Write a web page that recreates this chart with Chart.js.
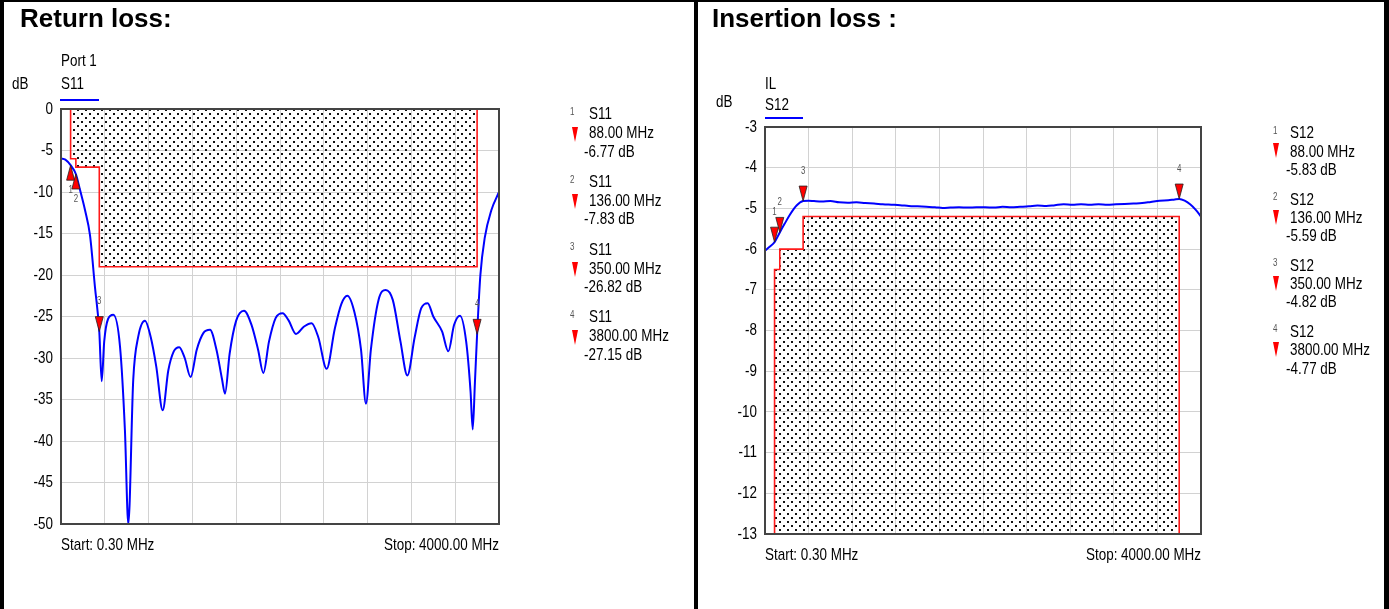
<!DOCTYPE html>
<html>
<head>
<meta charset="utf-8">
<title>Return loss / Insertion loss</title>
<script src="https://cdn.jsdelivr.net/npm/chart.js@4.4.1/dist/chart.umd.min.js"></script>
<style>
  body { margin: 0; background: #fff; }
  #page { position: relative; width: 1389px; height: 609px; overflow: hidden; background: #fff;
          font-family: 'Liberation Sans', Arial, sans-serif; }
  canvas { position: absolute; top: 0; }
  .bar { position: absolute; background: #000; z-index: 5; }
  .title { position: absolute; font: bold 26px 'Liberation Sans', Arial, sans-serif; line-height: 30px; white-space: nowrap; }
  .lbl { position: absolute; font-size: 17px; line-height: 20px; white-space: nowrap;
         transform: scaleX(0.79); transform-origin: left top; }
  .num { position: absolute; font-size: 10px; line-height: 12px; color: #555;
         transform: scaleX(0.8); transform-origin: left top; }
  .tri { position: absolute; width: 0; height: 0; border-left: 3.5px solid transparent;
         border-right: 3.5px solid transparent; border-top: 15px solid #f00; }
  .uline { position: absolute; height: 2px; background: #00f; }
</style>
</head>
<body>
<div id="page">
  <canvas id="rl" width="694" height="609" style="left:0"></canvas>
  <canvas id="il" width="691" height="609" style="left:698px"></canvas>

  <div class="bar" style="left:0;top:0;width:1389px;height:2px"></div>
  <div class="bar" style="left:0;top:0;width:4px;height:609px"></div>
  <div class="bar" style="left:694px;top:0;width:4px;height:609px"></div>
  <div class="bar" style="left:1384px;top:0;width:5px;height:609px"></div>

  <div class="title" style="left:20px;top:3px">Return loss:</div>
  <div class="title" style="left:712px;top:3px">Insertion loss :</div>

  <div class="lbl" style="left:61px;top:51px">Port 1</div>
  <div class="lbl" style="left:12px;top:74px">dB</div>
  <div class="lbl" style="left:61px;top:74px">S11</div>
  <div class="uline" style="left:60px;top:99px;width:39px"></div>

  <div class="lbl" style="left:765px;top:74px">IL</div>
  <div class="lbl" style="left:716px;top:92px">dB</div>
  <div class="lbl" style="left:765px;top:95px">S12</div>
  <div class="uline" style="left:765px;top:117px;width:38px"></div>
</div>

<script>
// sweep
const startLabel = 'Start: 0.30 MHz';
const stopLabel = 'Stop: 4000.00 MHz';
const fStart = 0.3, fStop = 4000;

// S11 trace (MHz, dB)
const s11Freq = [0.3, 40, 88, 136, 175, 220, 265, 310, 350, 372, 395, 430, 478, 539, 584, 615, 660, 706,
  767, 820, 870, 929, 980, 1030, 1080, 1130, 1184, 1240, 1300, 1361, 1420, 1470, 1498, 1540, 1600,
  1671, 1740, 1800, 1848, 1900, 1960, 2024, 2080, 2146, 2220, 2289, 2350, 2426, 2500, 2560, 2615,
  2680, 2740, 2785, 2830, 2900, 2965, 3030, 3100, 3163, 3230, 3290, 3349, 3400, 3480, 3537, 3590,
  3644, 3700, 3740, 3760, 3780, 3800, 3830, 3870, 3930, 4000];
const s11Db = [-5.95, -6.1, -6.77, -7.83, -9.8, -12.2, -15.2, -21.4, -26.82, -32.8, -28, -25.3, -24.8, -28.6, -38.7, -50, -32.6, -27.4,
  -25.5, -27.5, -31, -36.3, -31.5, -29.2, -28.7, -30, -32.3, -29, -27, -26.6, -29, -32.5, -34.3, -29.5, -25.5,
  -24.3, -26, -29, -31.8, -28, -25.2, -24.6, -25.5, -27.1, -26.2, -25.8, -27.5, -31.3, -26.5, -23.5, -22.5,
  -24.5, -29, -35.5, -29, -23, -21.8, -23, -28, -32.1, -27.5, -24, -23.4, -25, -26.8, -29.2, -26,
  -24.9, -28, -34, -38.6, -33, -27.15, -20, -15.5, -12.2, -10];

// return loss mask
const rlLimitFreq = [88, 88, 136, 136, 350, 350, 3800, 3800];
const rlLimitDb = [0, -6, -6, -7, -7, -19, -19, 0];

// S12 trace (MHz, dB)
const s12Freq = [0.3, 40, 88, 136, 180, 230, 290, 350, 400, 450, 520, 600, 680, 760, 840, 920, 1000,
  1080, 1160, 1240, 1320, 1400, 1480, 1560, 1630, 1700, 1780, 1860, 1940, 2020, 2100, 2180, 2260,
  2340, 2420, 2500, 2580, 2660, 2740, 2820, 2900, 2980, 3060, 3140, 3220, 3300, 3380, 3460, 3540,
  3620, 3700, 3760, 3800, 3850, 3900, 3950, 4000];
const s12Db = [-6.04, -5.95, -5.83, -5.59, -5.38, -5.15, -4.93, -4.82, -4.81, -4.82, -4.83, -4.82, -4.85, -4.86, -4.85, -4.87, -4.88,
  -4.9, -4.91, -4.92, -4.94, -4.95, -4.96, -4.97, -4.99, -4.98, -4.97, -4.98, -4.97, -4.97, -4.98, -4.96, -4.97,
  -4.96, -4.95, -4.93, -4.94, -4.92, -4.9, -4.91, -4.9, -4.91, -4.9, -4.91, -4.9, -4.89, -4.88, -4.87, -4.84,
  -4.81, -4.8, -4.78, -4.77, -4.81, -4.9, -5.03, -5.2];

// insertion loss mask
const ilLimitFreq = [88, 88, 136, 136, 350, 350, 3800, 3800];
const ilLimitDb = [-13, -6.5, -6.5, -6, -6, -5.2, -5.2, -13];

// markers
const markerFreq = [88, 136, 350, 3800];
const s11MarkerDb = [-6.77, -7.83, -26.82, -27.15];
const s12MarkerDb = [-5.83, -5.59, -4.82, -4.77];

const sans = "'Liberation Sans', Arial, sans-serif";
const squeeze = 0.79;   // the analyzer font is a tall, narrow Arial

function pts(xs, ys) { return xs.map((x, i) => ({ x: x, y: ys[i] })); }

function dotPattern() {
  const c = document.createElement('canvas');
  c.width = 8; c.height = 8;
  const g = c.getContext('2d');
  g.fillStyle = '#111';
  g.fillRect(1, 1, 2, 2);
  g.fillRect(5, 5, 2, 2);
  return g.createPattern(c, 'repeat');
}

function squeezedText(ctx, text, x, y, align) {
  ctx.save();
  ctx.translate(x, y);
  ctx.scale(squeeze, 1);
  ctx.textAlign = align;
  ctx.fillText(text, 0, 0);
  ctx.restore();
}

const framePlugin = {
  id: 'frame',
  afterDatasetsDraw(chart) {
    const a = chart.chartArea, ctx = chart.ctx;
    ctx.save();
    ctx.strokeStyle = '#444';
    ctx.lineWidth = 2;
    ctx.strokeRect(a.left, a.top, a.right - a.left, a.bottom - a.top);
    ctx.restore();
  }
};

// tick labels drawn narrow, positions from the chart scales
const tickTextPlugin = {
  id: 'tickText',
  afterDraw(chart) {
    const ctx = chart.ctx, x = chart.scales.x, y = chart.scales.y;
    ctx.save();
    ctx.fillStyle = '#000';
    ctx.font = '17px ' + sans;
    ctx.textBaseline = 'middle';
    y.ticks.forEach(t => squeezedText(ctx, t.label, y.right - 8, y.getPixelForValue(t.value), 'right'));
    const first = x.ticks[0], last = x.ticks[x.ticks.length - 1];
    squeezedText(ctx, first.label, x.getPixelForValue(first.value), x.top + 21, 'left');
    squeezedText(ctx, last.label, x.getPixelForValue(last.value), x.top + 21, 'right');
    ctx.restore();
  }
};

const markerPlugin = {
  id: 'markers',
  afterDraw(chart, args, o) {
    const ctx = chart.ctx, x = chart.scales.x, y = chart.scales.y;
    markerFreq.forEach((f, i) => {
      const px = x.getPixelForValue(f), py = y.getPixelForValue(o.values[i]);
      const d = o.up[i] ? 1 : -1;
      ctx.save();
      ctx.beginPath();
      ctx.moveTo(px, py);
      ctx.lineTo(px - 4, py + d * 15);
      ctx.lineTo(px + 4, py + d * 15);
      ctx.closePath();
      ctx.fillStyle = '#ff0000';
      ctx.fill();
      ctx.strokeStyle = '#222';
      ctx.lineWidth = 0.8;
      ctx.stroke();
      ctx.fillStyle = '#555';
      ctx.font = '10px ' + sans;
      ctx.textBaseline = 'middle';
      squeezedText(ctx, String(i + 1), px, o.up[i] ? py + 25 : py - 30, 'center');
      ctx.restore();
    });
  }
};

function makeChart(id, cfg) {
  return new Chart(document.getElementById(id), {
    type: 'line',
    data: {
      datasets: [
        {
          data: pts(cfg.traceF, cfg.traceV),
          borderColor: '#0000ff', borderWidth: 2, pointRadius: 0,
          cubicInterpolationMode: 'monotone', fill: false
        },
        {
          data: pts(cfg.limF, cfg.limV),
          borderColor: '#ff1a1a', borderWidth: 1.6, pointRadius: 0, tension: 0,
          fill: cfg.fill, backgroundColor: dotPattern()
        }
      ]
    },
    options: {
      responsive: false,
      animation: false,
      events: [],
      layout: { padding: cfg.padding },
      plugins: {
        legend: { display: false },
        tooltip: { enabled: false },
        markers: { values: cfg.markers, up: cfg.up }
      },
      scales: {
        x: {
          type: 'linear', min: fStart, max: fStop,
          afterBuildTicks: (axis) => {
            axis.ticks = [];
            for (let i = 0; i <= 10; i++) axis.ticks.push({ value: fStart + i * (fStop - fStart) / 10 });
          },
          afterFit: (s) => { s.height = 40; },
          grid: { color: '#d2d2d2', lineWidth: 1, drawTicks: false },
          border: { display: false },
          ticks: {
            display: false, autoSkip: false,
            callback: (v, i, t) => i === 0 ? startLabel : (i === t.length - 1 ? stopLabel : '')
          }
        },
        y: {
          min: cfg.yMin, max: cfg.yMax,
          afterFit: (s) => { s.width = cfg.yWidth; },
          grid: { color: '#d2d2d2', lineWidth: 1, drawTicks: false },
          border: { display: false },
          ticks: { display: false, stepSize: cfg.step }
        }
      }
    },
    plugins: [framePlugin, tickTextPlugin, markerPlugin]
  });
}

makeChart('rl', {
  traceF: s11Freq, traceV: s11Db, limF: rlLimitFreq, limV: rlLimitDb, fill: 'end',
  yMin: -50, yMax: 0, step: 5, yWidth: 61,
  padding: { left: 0, top: 109, right: 195, bottom: 45 },
  markers: s11MarkerDb, up: [true, true, false, false]
});

makeChart('il', {
  traceF: s12Freq, traceV: s12Db, limF: ilLimitFreq, limV: ilLimitDb, fill: 'start',
  yMin: -13, yMax: -3, step: 1, yWidth: 67,
  padding: { left: 0, top: 127, right: 188, bottom: 35 },
  markers: s12MarkerDb, up: [false, false, false, false]
});

// marker readout tables
function buildTable(t) {
  const page = document.getElementById('page');
  function add(cls, x, y, text) {
    const d = document.createElement('div');
    d.className = cls;
    d.style.left = x + 'px';
    d.style.top = y + 'px';
    if (text) d.textContent = text;
    page.appendChild(d);
  }
  markerFreq.forEach((f, i) => {
    const b = t.y0 + i * t.step;
    add('num', t.xNum, b - 8.5, String(i + 1));
    add('lbl', t.xName, b - 10, t.name);
    add('tri', t.xTri, b + t.triDy, '');
    add('lbl', t.xName, b + t.dFreq - 10, f.toFixed(2) + ' MHz');
    add('lbl', t.xVal, b + t.dVal - 10, t.values[i].toFixed(2) + ' dB');
  });
}

buildTable({ name: 'S11', values: s11MarkerDb, y0: 114.3, step: 67.7, xNum: 570, xName: 589, xTri: 572,
  triDy: 12.4, dFreq: 19, dVal: 37.4, xVal: 584 });
buildTable({ name: 'S12', values: s12MarkerDb, y0: 133.3, step: 66.2, xNum: 1273, xName: 1290, xTri: 1272.5,
  triDy: 10, dFreq: 18.4, dVal: 36.7, xVal: 1286 });
</script>
</body>
</html>
